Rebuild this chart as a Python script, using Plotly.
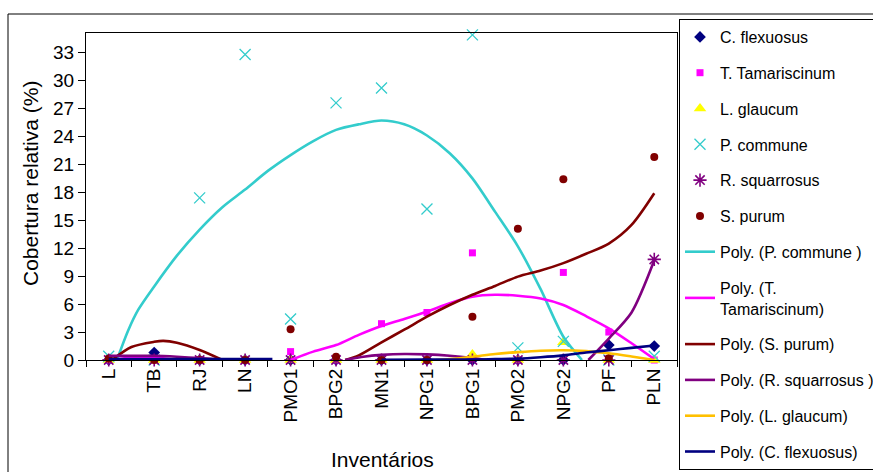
import plotly.graph_objects as go

# ---------------- data ----------------
categories = ["L", "TB", "RJ", "LN", "PMO1", "BPG2", "MN1", "NPG1", "BPG1", "PMO2", "NPG2", "PF", "PLN"]

c_flexuosus    = [0, 0.8, 0, 0, 0, 0, 0, 0, 0, 0, 0, 1.6, 1.5]
t_tamariscinum = [0, 0, 0, 0, 0.9, 0, 3.9, 5.1, 11.5, 0, 9.4, 3.0, 0]
l_glaucum      = [0, 0, 0, 0, 0, 0, 0, 0, 0.6, 0, 1.9, 0, 0]
p_commune      = [0.4, 0, 17.4, 32.8, 4.4, 27.6, 29.2, 16.2, 34.9, 1.3, 2.0, 0, 0.4]
r_squarrosus   = [0, 0, 0, 0, 0, 0, 0, 0, 0, 0, 0, 0, 10.8]
s_purum        = [0.15, 0, 0, 0, 3.3, 0.35, 0, 0, 4.65, 14.1, 19.4, 0.2, 21.8]

# polynomial trend lines (position in category units, value)
trend_pc_pos = [0.18, 0.43, 0.65, 1, 1.5, 2, 2.5, 3, 3.5, 4, 4.5, 5, 5.5, 6, 6.5, 7, 7.5, 8, 8.5, 9, 9.5, 10, 10.41]
trend_pc_val = [0, 3.2, 5.4, 7.9, 11.2, 14.0, 16.4, 18.3, 20.3, 22.0, 23.5, 24.7, 25.3, 25.7, 25.3, 24.1, 22.2, 19.5, 15.9, 12.2, 7.6, 2.5, 0]

trend_tt_pos = [0.1, 0.5, 1, 1.5, None, 4, 4.5, 5, 5.5, 6, 6.5, 7, 7.5, 8, 8.5, 9, 9.5, 10, 10.5, 11, 11.5, 12]
trend_tt_val = [0, 0.3, 0.3, 0, None, 0, 0.9, 1.6, 2.7, 3.65, 4.4, 5.2, 6.1, 6.8, 7.0, 6.9, 6.6, 5.9, 4.7, 3.4, 1.8, 0.1]

trend_sp_pos = [0.07, 0.5, 1, 1.2, 1.5, 2, 2.5, None, 5.2, 5.5, 6, 6.5, 7, 7.5, 8, 8.5, 9, 9.5, 10, 10.5, 11, 11.5, 12]
trend_sp_val = [0, 1.4, 1.95, 2.05, 1.85, 1.07, 0, None, 0, 0.5, 1.9, 3.25, 4.65, 5.9, 7.0, 7.95, 8.95, 9.6, 10.4, 11.4, 12.5, 14.5, 17.9]

trend_rs_pos = [0, 0.5, 1, 1.5, 2, 2.6, None, 5.2, 5.6, 6, 6.5, 7, 7.5, 8, 8.3, None, 10.55, 11, 11.5, 12]
trend_rs_val = [0.45, 0.45, 0.45, 0.35, 0.2, 0, None, 0, 0.35, 0.55, 0.65, 0.6, 0.45, 0.2, 0, None, 0, 2.3, 5.1, 10.7]

trend_lg_pos = [7.2, 7.5, 8, 8.5, 9, 9.5, 10, 10.5, 11, 11.5, 12]
trend_lg_val = [0, 0.1, 0.35, 0.65, 0.85, 1.0, 1.05, 0.95, 0.72, 0.38, 0]

trend_cf_pos = [0, 3.6, None, 6, 7, 8, 8.5, 9, 9.5, 10, 10.5, 11, 11.5, 12]
trend_cf_val = [0.1, 0.1, None, 0.02, 0.05, 0.05, 0.1, 0.15, 0.3, 0.5, 0.8, 1.05, 1.3, 1.55]

y_ticks = [0, 3, 6, 9, 12, 15, 18, 21, 24, 27, 30, 33]

# ---------------- figure ----------------
FONT = "Liberation Sans, Arial, sans-serif"
pos = list(range(len(categories)))

fig = go.Figure()

marker_series = [
    ("C. flexuosus", c_flexuosus, dict(symbol="diamond", color="#000080", size=9)),
    ("T. Tamariscinum", t_tamariscinum, dict(symbol="square", color="#FF00FF", size=7)),
    ("L. glaucum", l_glaucum, dict(symbol="triangle-up", color="#FFFF00", size=11)),
    ("P. commune", p_commune, dict(symbol="x-thin-open", color="#33CCCC", size=11,
                                   line=dict(color="#33CCCC", width=1.3))),
    ("R. squarrosus", r_squarrosus, dict(symbol="asterisk-open", color="#800080", size=11,
                                         line=dict(color="#800080", width=1.6))),
    ("S. purum", s_purum, dict(symbol="circle", color="#800000", size=8)),
]

trend_series = [
    ("Poly. (P. commune )", trend_pc_pos, trend_pc_val, "#33CCCC"),
    ("Poly. (T.<br>Tamariscinum)", trend_tt_pos, trend_tt_val, "#FF00FF"),
    ("Poly. (S. purum)", trend_sp_pos, trend_sp_val, "#800000"),
    ("Poly. (R. squarrosus )", trend_rs_pos, trend_rs_val, "#800080"),
    ("Poly. (L. glaucum)", trend_lg_pos, trend_lg_val, "#FFC000"),
    ("Poly. (C. flexuosus)", trend_cf_pos, trend_cf_val, "#000080"),
]

g = 0
for name, vals, mk in marker_series:
    fig.add_trace(go.Scatter(x=pos, y=vals, mode="markers", name=name, marker=mk,
                             cliponaxis=False, legendgroup=f"g{g}"))
    g += 1

for name, xs, ys, col in trend_series:
    fig.add_trace(go.Scatter(x=xs, y=ys, mode="lines", name=name,
                             line=dict(color=col, width=2.6, shape="spline", smoothing=0.8),
                             connectgaps=False, legendgroup=f"g{g}"))
    g += 1

W, H = 873, 472
L_, R_, T_, B_ = 86, 677, 33, 360


def px(xp):
    return (xp - L_) / (R_ - L_)


def py(yp):
    return (B_ - yp) / (B_ - T_)


fig.update_layout(
    width=W, height=H,
    margin=dict(l=L_, r=W - R_, t=T_, b=H - B_, pad=0, autoexpand=False),
    paper_bgcolor="white", plot_bgcolor="white",
    font=dict(family=FONT, color="black"),
    showlegend=True,
    legend=dict(
        x=px(679), y=py(19), xanchor="left", yanchor="top",
        bordercolor="black", borderwidth=1, bgcolor="white",
        font=dict(family=FONT, size=16, color="black"),
        traceorder="grouped", tracegroupgap=12,
        itemwidth=30, maxheight=2000,
    ),
    xaxis=dict(
        range=[-0.5, 12.5], tickmode="array", tickvals=pos, ticktext=categories,
        tickangle=-90, ticks="", showgrid=False, zeroline=False,
        showline=True, linecolor="black", linewidth=1, mirror=True,
        tickfont=dict(family=FONT, size=19, color="black"),
        minor=dict(tickmode="array", tickvals=[i - 0.5 for i in range(14)],
                   ticks="outside", ticklen=6, tickcolor="black", showgrid=False),
    ),
    yaxis=dict(
        range=[0, 35.1], tickmode="array", tickvals=y_ticks,
        ticks="outside", ticklen=7, tickcolor="black",
        showgrid=False, zeroline=False,
        showline=True, linecolor="black", linewidth=1, mirror=True,
        tickfont=dict(family=FONT, size=19, color="black"),
    ),
    annotations=[
        dict(text="Cobertura relativa (%)", xref="paper", yref="paper",
             x=px(30), y=py(184), textangle=-90, showarrow=False,
             font=dict(family=FONT, size=21, color="black"),
             xanchor="center", yanchor="middle"),
        dict(text="Inventários", xref="paper", yref="paper",
             x=px(382), y=py(459), showarrow=False,
             font=dict(family=FONT, size=21, color="black"),
             xanchor="center", yanchor="middle"),
    ],
    shapes=[
        dict(type="rect", xref="paper", yref="paper",
             x0=px(8), y0=py(500), x1=px(900), y1=py(14),
             line=dict(color="black", width=1), fillcolor="rgba(0,0,0,0)", layer="below"),
    ],
)

fig.write_html("out.html")
